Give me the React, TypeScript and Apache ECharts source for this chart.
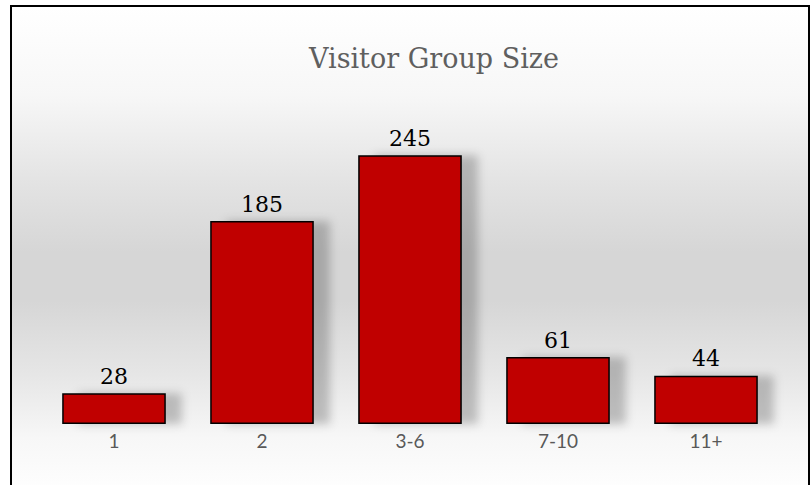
import React, { useEffect, useRef } from "react";
import * as echarts from "echarts";

const categories = ["1", "2", "3-6", "7-10", "11+"];
const visitors = [28, 185, 245, 61, 44];
const titleText = "Visitor Group Size";

export default function App() {
  const ref = useRef<HTMLDivElement>(null);
  useEffect(() => {
    if (!ref.current) return;
    const chart = echarts.init(ref.current, undefined, { renderer: "svg" });
    chart.setOption({
      animation: false,
      backgroundColor: "transparent",
      title: {
        text: titleText,
        left: 429,
        top: 40,
        textAlign: "center",
        textStyle: {
          fontFamily: "DejaVu Serif",
          fontSize: 27,
          fontWeight: "normal",
          color: "#5f5f5f",
        },
      },
      grid: { left: 40, right: 32, top: 95, bottom: 61 },
      xAxis: {
        type: "category",
        data: categories,
        axisLine: { show: false },
        axisTick: { show: false },
        axisLabel: {
          fontFamily: "Lato",
          fontSize: 19,
          color: "#595959",
          margin: 7,
        },
      },
      yAxis: {
        type: "value",
        min: 0,
        max: 300,
        show: false,
        splitLine: { show: false },
      },
      series: [
        {
          type: "bar",
          data: visitors,
          barCategoryGap: "30%",
          itemStyle: {
            color: "#C00000",
            borderColor: "#000",
            borderWidth: 1.5,
            shadowColor: "rgba(0,0,0,0.22)",
            shadowBlur: 10,
            shadowOffsetX: 16,
            shadowOffsetY: 0,
          },
          label: {
            show: true,
            position: "top",
            distance: 6,
            fontFamily: "DejaVu Serif",
            fontSize: 22,
            color: "#000",
          },
        },
      ],
    });
    return () => chart.dispose();
  }, []);

  return (
    <div style={{ position: "fixed", left: 0, top: 0, width: 812, height: 485, background: "#fff", overflow: "hidden" }}>
      <div
        style={{
          position: "absolute",
          left: 10,
          top: 5,
          width: 796,
          height: 490,
          border: "2px solid #000",
          borderBottom: "none",
          background:
            "linear-gradient(to bottom, #ffffff 0%, #f7f7f7 18%, #e4e4e4 35%, #d6d6d6 50%, #d6d6d6 60%, #e6e6e6 75%, #f7f7f7 88%, #ffffff 100%)",
        }}
      />
      <div ref={ref} style={{ position: "absolute", left: 0, top: 0, width: 812, height: 485 }} />
    </div>
  );
}
